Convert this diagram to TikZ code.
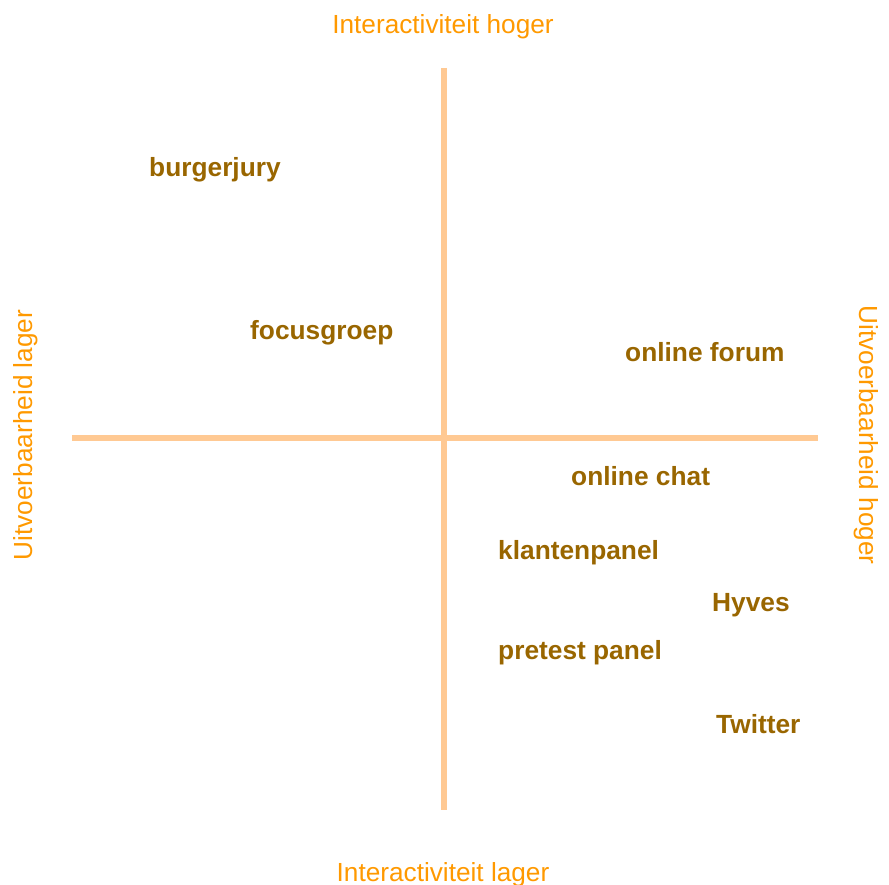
\documentclass[tikz,border=0pt]{standalone}
\usepackage{fontspec}
\setmainfont{Liberation Sans}
\definecolor{axisline}{HTML}{FFC993}
\definecolor{axislabel}{HTML}{FF9900}
\definecolor{itemlabel}{HTML}{996600}
\begin{document}
\begin{tikzpicture}[x=1pt,y=-1pt,
  axis/.style={draw=axisline,line width=6pt},
  axistext/.style={text=axislabel,inner sep=0pt,anchor=base,font=\fontsize{26.2}{30}\selectfont},
  item/.style={text=itemlabel,inner sep=0pt,anchor=base west,font=\fontsize{26.3}{30}\selectfont\bfseries}]
\useasboundingbox (0,0) rectangle (889,885);
% quadrant axes
\coordinate (top) at (444,68);
\coordinate (bottom) at (444,810);
\coordinate (left) at (72,438);
\coordinate (right) at (818,438);
\draw[axis] (left) -- (right);
\draw[axis] (top) -- (bottom);
% axis captions
\node[axistext] (ihoger) at (443,34) {Interactiviteit hoger};
\node[axistext] (ilager) at (443,881) {Interactiviteit lager};
\node[axistext,rotate=90] (ulager) at (32,435) {Uitvoerbaarheid lager};
\node[axistext,rotate=-90] (uhoger) at (859,435) {Uitvoerbaarheid hoger};
% participation methods
\node[item] (burgerjury) at (149,177) {burgerjury};
\node[item] (focusgroep) at (250,340) {focusgroep};
\node[item] (forum) at (625,361) {online forum};
\node[item] (chat) at (571,485) {online chat};
\node[item] (klantenpanel) at (498,559) {klantenpanel};
\node[item] (hyves) at (712,611) {Hyves};
\node[item] (pretest) at (498,659) {pretest panel};
\node[item] (twitter) at (716,733) {Twitter};
\end{tikzpicture}
\end{document}
